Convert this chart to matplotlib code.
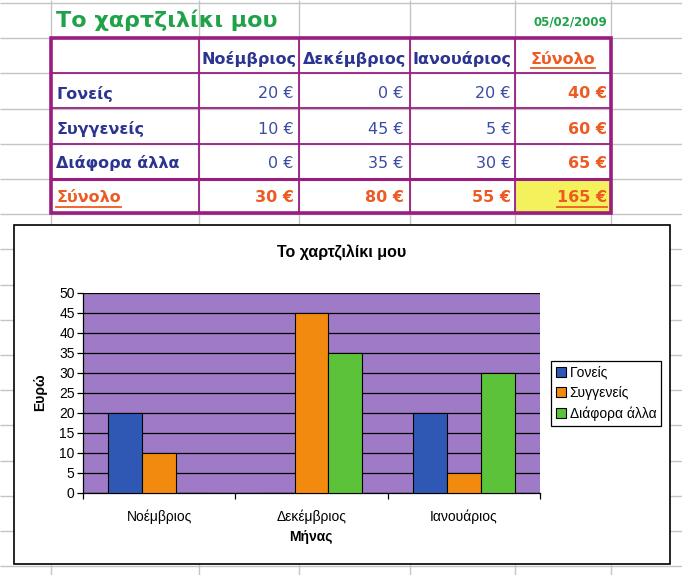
import matplotlib
matplotlib.use('Agg')
import matplotlib.pyplot as plt
from matplotlib.patches import Rectangle
import numpy as np

plt.rcParams['font.family'] = ['Liberation Sans', 'DejaVu Sans']

# data
title = 'Το χαρτζιλίκι μου'
date = '05/02/2009'
months = ['Νοέμβριος', 'Δεκέμβριος', 'Ιανουάριος']
sources = ['Γονείς', 'Συγγενείς', 'Διάφορα άλλα']
goneis = [20, 0, 20]
syggeneis = [10, 45, 5]
diafora = [0, 35, 30]
row_totals = [40, 60, 65]
col_totals = [30, 80, 55]
grand_total = 165
total_label = 'Σύνολο'

bar_colors = ['#2F58B4', '#F28A10', '#5CC23A']

fig = plt.figure(figsize=(6.82, 5.75), dpi=100)
bg = fig.add_axes([0, 0, 1, 1])
bg.set_xlim(0, 682)
bg.set_ylim(575, 0)
bg.axis('off')

# spreadsheet grid
col_x = [51, 199, 299, 410, 515, 611]
row_y = [3 + 35.2 * k for k in range(17)]
bg.vlines(col_x, 0, 575, color='#C4C4C4', lw=1)
bg.hlines(row_y, 0, 682, color='#C4C4C4', lw=1)

# table
tab_top, tab_bot = 38, 213
rows = [38, 73, 108, 144, 179, 213]
bg.add_patch(Rectangle((51, tab_top), 560, tab_bot - tab_top, fc='white', ec='none', zorder=1))
bg.add_patch(Rectangle((515, 179), 96, 34, fc='#F4F25C', ec='none', zorder=1.5))
purple = '#9A1E80'
bg.vlines(col_x[1:-1], tab_top, tab_bot, color=purple, lw=1.3, zorder=2)
bg.hlines(rows[1:4], 51, 611, color=purple, lw=1.3, zorder=2)
bg.hlines(rows[4], 51, 611, color=purple, lw=2.2, zorder=2)
bg.add_patch(Rectangle((51, tab_top), 560, tab_bot - tab_top, fc='none', ec=purple, lw=2.6, zorder=3))

green = '#20A24A'
navy = '#2B3591'
blue = '#3B4BA2'
orange = '#EE5A22'
tfont = 'DejaVu Sans'

bg.text(56, 20, title, color=green, fontsize=16, fontweight='bold', family=tfont, va='center')
bg.text(607, 22, date, color=green, fontsize=8.5, fontweight='bold', family=tfont, va='center', ha='right')

underlines = []
hdr_y = 59
for i, m in enumerate(months):
    bg.text((col_x[i + 1] + col_x[i + 2]) / 2, hdr_y, m, color=navy, fontsize=11.5,
            fontweight='bold', family=tfont, ha='center', va='center', zorder=4)
t = bg.text(563, hdr_y, total_label, color=orange, fontsize=11.5, fontweight='bold',
            family=tfont, ha='center', va='center', zorder=4)
underlines.append((t, 68))

vals = [goneis, syggeneis, diafora]
row_c = [94, 129, 163]
right_x = [294, 404, 511, 607]
for r, name in enumerate(sources):
    bg.text(56, row_c[r], name, color=navy, fontsize=11.5, fontweight='bold',
            family=tfont, va='center', zorder=4)
    for c in range(3):
        bg.text(right_x[c], row_c[r], f'{vals[r][c]} €', color=blue, fontsize=11.5,
                family=tfont, ha='right', va='center', zorder=4)
    bg.text(right_x[3], row_c[r], f'{row_totals[r]} €', color=orange, fontsize=11.5,
            fontweight='bold', family=tfont, ha='right', va='center', zorder=4)

t = bg.text(56, 197, total_label, color=orange, fontsize=11.5, fontweight='bold',
            family=tfont, va='center', zorder=4)
underlines.append((t, 207))
for c in range(3):
    bg.text(right_x[c], 197, f'{col_totals[c]} €', color=orange, fontsize=11.5,
            fontweight='bold', family=tfont, ha='right', va='center', zorder=4)
t = bg.text(right_x[3], 197, f'{grand_total} €', color=orange, fontsize=11.5,
            fontweight='bold', family=tfont, ha='right', va='center', zorder=4)
underlines.append((t, 207))

fig.canvas.draw()
inv = bg.transData.inverted()
for t, uy in underlines:
    bb = t.get_window_extent()
    x0, _ = inv.transform((bb.x0, bb.y0))
    x1, _ = inv.transform((bb.x1, bb.y0))
    bg.plot([x0, x1], [uy, uy], color=orange, lw=1.3, zorder=4)

# chart area
bg.add_patch(Rectangle((14, 225), 656, 339, fc='white', ec='black', lw=1.2, zorder=5))

ax = fig.add_axes([83 / 682, 1 - 493 / 575, 457 / 682, 200 / 575])
ax.set_facecolor('#9F7BC7')
x = np.arange(len(months))
w = 1 / 4.5
for k, (s, v) in enumerate(zip(sources, vals)):
    ax.bar(x + (k - 1) * w, v, w, color=bar_colors[k], edgecolor='black', lw=0.8,
           label=s, zorder=3)
ax.set_xlim(-0.5, 2.5)
ax.set_ylim(0, 50)
ax.set_yticks(range(0, 51, 5))
ax.yaxis.grid(True, color='black', lw=0.9, zorder=1)
ax.set_axisbelow(True)
ax.set_xticks([-0.5, 0.5, 1.5, 2.5])
ax.set_xticklabels([])
ax.set_xticks(x, minor=True)
ax.set_xticklabels(months, minor=True, fontsize=10)
ax.tick_params(axis='x', which='minor', length=0, pad=12)
ax.tick_params(axis='x', which='major', length=4, direction='out', width=0.9)
ax.tick_params(axis='y', length=4, direction='out', width=0.9, labelsize=10, pad=2)
for sp in ['top', 'right']:
    ax.spines[sp].set_visible(False)
for sp in ['left', 'bottom']:
    ax.spines[sp].set_linewidth(0.9)

fig.text(342 / 682, 1 - 253 / 575, title, fontsize=11.5, fontweight='bold', ha='center', va='center')
fig.text(40 / 682, 1 - 392 / 575, 'Ευρώ', fontsize=10, fontweight='bold', rotation=90,
         ha='center', va='center')
fig.text(311 / 682, 1 - 537 / 575, 'Μήνας', fontsize=10, fontweight='bold', ha='center', va='center')

leg = ax.legend(loc='upper left', bbox_to_anchor=(551 / 682, 1 - 361 / 575),
                bbox_transform=fig.transFigure, fontsize=10, fancybox=False,
                edgecolor='black', framealpha=1, handlelength=0.7, handleheight=0.7,
                handletextpad=0.3, borderpad=0.35, labelspacing=0.45, borderaxespad=0)
leg.get_frame().set_linewidth(0.9)

fig.savefig('out.png', dpi=100)
